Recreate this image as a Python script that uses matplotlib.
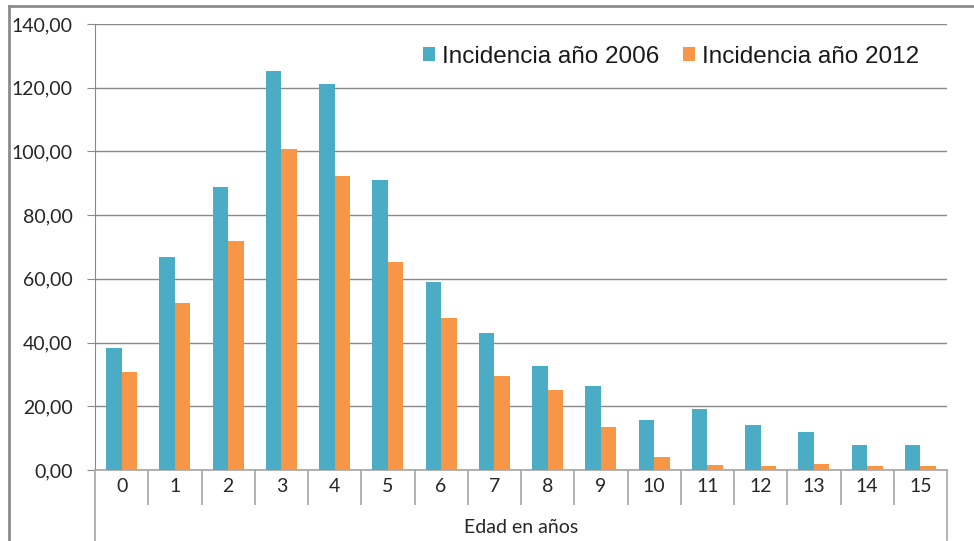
import numpy as np
import matplotlib
matplotlib.use('Agg')
import matplotlib.pyplot as plt
from matplotlib.ticker import FuncFormatter, FixedLocator
from matplotlib.lines import Line2D

# edades (categorias) y series
edades = [str(i) for i in range(16)]
inc_2006 = [38.3, 66.9, 88.8, 125.2, 121.2, 91.0, 59.0, 43.0, 32.6, 26.4, 15.7, 19.2, 14.1, 11.9, 7.7, 7.7]
inc_2012 = [30.8, 52.4, 71.9, 100.8, 92.3, 65.3, 47.7, 29.5, 25.1, 13.5, 4.2, 1.5, 1.3, 1.8, 1.3, 1.3]

c_2006 = '#4BACC6'
c_2012 = '#F79646'
grid_c = '#898989'

fig = plt.figure(figsize=(9.74, 5.41), dpi=100)
ax = fig.add_axes([95/974, 71/541, 852/974, 446/541])

x = np.arange(len(edades))
w = 0.29
ax.bar(x - w/2, inc_2006, w, color=c_2006, label='Incidencia año 2006', zorder=3)
ax.bar(x + w/2, inc_2012, w, color=c_2012, label='Incidencia año 2012', zorder=3)

ax.set_xlim(-0.5, len(edades) - 0.5)
ax.set_ylim(0, 140)
ax.set_yticks(np.arange(0, 141, 20))
ax.yaxis.set_major_formatter(FuncFormatter(lambda v, p: f'{v:.2f}'.replace('.', ',')))
ax.yaxis.grid(True, color=grid_c, linewidth=1)
ax.set_axisbelow(True)

for s in ['top', 'right']:
    ax.spines[s].set_visible(False)
ax.spines['left'].set_color(grid_c)
ax.spines['bottom'].set_color('#a6a6a6')
ax.spines['bottom'].set_linewidth(1.2)

ax.tick_params(axis='y', length=6, color=grid_c, pad=10, labelsize=14, labelcolor='#262626')
ax.set_xticks(x)
ax.set_xticklabels(edades, fontsize=14, color='#262626')
ax.tick_params(axis='x', which='major', length=0, pad=6)
ax.xaxis.set_minor_locator(FixedLocator(np.arange(0.5, len(edades) - 1, 1)))
ax.tick_params(axis='x', which='minor', length=25, color='#a6a6a6', width=1.2)
for lab in ax.get_yticklabels() + ax.get_xticklabels():
    lab.set_family('Lato')

ax.set_xlabel('Edad en años', fontsize=14, family='Lato', color='#262626', labelpad=7)

# lineas de la categoria exterior y borde del grafico
fig.add_artist(Line2D([95/974, 95/974], [0, 71/541], color='#a6a6a6', lw=1.2))
fig.add_artist(Line2D([947/974, 947/974], [1/541, 71/541], color='#a6a6a6', lw=1.2))
fig.add_artist(Line2D([9/974, 9/974], [0, 535/541], color='#8c8c8c', lw=2))
fig.add_artist(Line2D([9/974, 1], [535/541, 535/541], color='#8c8c8c', lw=2))

leg = ax.legend(loc='center right', bbox_to_anchor=(0.993, 0.926), ncol=2, frameon=False,
                handlelength=0.5, handleheight=0.5, handletextpad=0.3, columnspacing=0.95,
                prop={'family': 'Liberation Sans', 'size': 17.5})
for t in leg.get_texts():
    t.set_color('#1a1a1a')

fig.savefig('out.png', dpi=100)
